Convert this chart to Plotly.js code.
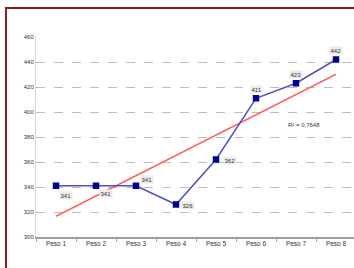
<!DOCTYPE html>
<html><head><meta charset="utf-8">
<script src="https://cdn.plot.ly/plotly-3.0.1.min.js"></script>
<style>
html,body{margin:0;padding:0;background:#fff;}
#wrap{position:absolute;left:0;top:0;width:354px;height:268px;overflow:hidden;}
#chart{position:absolute;left:0;top:0;width:354px;height:268px;}
#bl{position:absolute;left:5px;top:7px;width:2px;height:261px;background:#8e1b1b;}
#bt{position:absolute;left:5px;top:7px;width:349px;height:2px;background:#8e1b1b;}
</style></head>
<body><div id="wrap"><div id="chart"></div><div id="bl"></div><div id="bt"></div></div>
<script>
const categories = ["Peso 1","Peso 2","Peso 3","Peso 4","Peso 5","Peso 6","Peso 7","Peso 8"];
const values = [341, 341, 341, 326, 362, 411, 423, 442];
const yTicks = [300, 320, 340, 360, 380, 400, 420, 440, 460];
const r2Label = "R² = 0,7648";
// label offsets in pixels (styling only)
const labelDx = [10, 10, 11, 12, 14, 0, 0, 0];
const labelDy = [-10, -8, 6, -1, -1, 9, 9, 9];

const n = values.length;
const xs = values.map((_, i) => i + 1);
const mx = xs.reduce((a,b)=>a+b,0)/n, my = values.reduce((a,b)=>a+b,0)/n;
let sxy = 0, sxx = 0;
for (let i=0;i<n;i++){ sxy += (xs[i]-mx)*(values[i]-my); sxx += (xs[i]-mx)**2; }
const slope = sxy/sxx, icpt = my - slope*mx;
const trend = xs.map(x => icpt + slope*x);

const traces = [
  {x: categories, y: trend, type:'scatter', mode:'lines',
   line:{color:'#ff6464', width:1.5}, hoverinfo:'skip'},
  {x: categories, y: values, type:'scatter', mode:'lines+markers',
   line:{color:'#5050c0', width:1.5},
   marker:{symbol:'square', size:6.5, color:'#000090'}}
];
const annots = values.map((v,i)=>({x: categories[i], y: v, xref:'x', yref:'y',
  text: String(v), showarrow:false, xshift: labelDx[i], yshift: labelDy[i],
  bgcolor:'#ececec', borderpad:0.5,
  font:{family:'Liberation Sans, Arial', size:6, color:'#333'}}));
annots.push({xref:'paper', yref:'paper', x:0.843, y:0.56, xanchor:'center', text:r2Label,
    showarrow:false, font:{size:6, color:'#333'}});
const layout = {
  width:354, height:268, showlegend:false,
  margin:{l:36, r:0, t:37, b:31},
  paper_bgcolor:'rgba(0,0,0,0)', plot_bgcolor:'#fff',
  font:{family:'Liberation Sans, Arial', size:6, color:'#333'},
  xaxis:{type:'category', range:[-0.5, 7.45], showgrid:false, zeroline:false,
    showline:true, linecolor:'#a0a0a0', linewidth:1.5,
    ticks:'outside', tickson:'boundaries', ticklen:3, tickcolor:'#a0a0a0',
    tickfont:{size:6.5, color:'#333'}},
  yaxis:{range:[300,460], tickvals:yTicks, showgrid:true, gridcolor:'#bdbdbd',
    griddash:'dash', gridwidth:1, zeroline:false, showline:true, linecolor:'#d8d8d8',
    ticks:'', tickfont:{size:6, color:'#333'}},
  annotations: annots
};
Plotly.newPlot('chart', traces, layout, {staticPlot:true});
</script></body></html>
